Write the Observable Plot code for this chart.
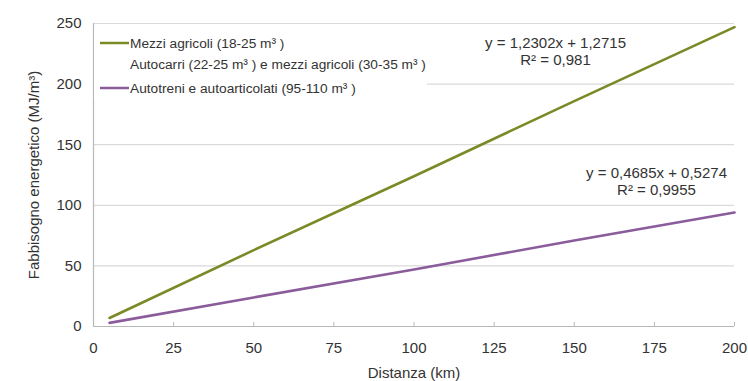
<!DOCTYPE html>
<html>
<head>
<meta charset="utf-8">
<script src="https://cdn.jsdelivr.net/npm/d3@7"></script>
<script src="https://cdn.jsdelivr.net/npm/@observablehq/plot@0.6"></script>
<style>
  html, body { margin: 0; padding: 0; background: #fff; }
</style>
</head>
<body>
<div id="chart"></div>
<script>
// ---- data ----
const distanze = [5, 50, 100, 150, 200];
const mezziAgricoli = [7, 63, 124, 186, 247];
const autotreni = [3, 24, 47, 71, 94];
const seriesNames = [
  "Mezzi agricoli (18-25 m³ )",
  "Autocarri (22-25 m³ ) e mezzi agricoli (30-35 m³ )",
  "Autotreni e autoarticolati (95-110 m³ )"
];
const seriesColors = ["#7b8a26", "#8b5c9b", "none"];
const equazioni = [
  ["y = 1,2302x + 1,2715", "R² = 0,981"],
  ["y = 0,4685x + 0,5274", "R² = 0,9955"]
];
const xTicks = [0, 25, 50, 75, 100, 125, 150, 175, 200];
const yTicks = [0, 50, 100, 150, 200, 250];

const green = seriesColors[0], purple = seriesColors[1];
const dataGreen = distanze.map((d, i) => ({x: d, y: mezziAgricoli[i]}));
const dataPurple = distanze.map((d, i) => ({x: d, y: autotreni[i]}));

const textColor = "#333333";

function legendMark(index, scales, values, dims) {
  const g = d3.create("svg:g").attr("text-anchor", "start");
  const x0 = dims.marginLeft;
  g.append("rect").attr("x", x0 + 1).attr("y", 30).attr("width", 333).attr("height", 70).attr("fill", "white");
  const rows = [
    {name: seriesNames[0], color: green, y: 43},
    {name: seriesNames[1], color: null, y: 64},
    {name: seriesNames[2], color: purple, y: 88}
  ];
  for (const r of rows) {
    if (r.color) {
      g.append("line").attr("x1", x0 + 7).attr("x2", x0 + 36).attr("y1", r.y).attr("y2", r.y)
        .attr("stroke", r.color).attr("stroke-width", 2.5);
    }
    g.append("text").attr("x", x0 + 37).attr("y", r.y).attr("dy", "0.35em")
      .attr("text-anchor", "start")
      .attr("fill", textColor).attr("font-size", "13.7px").text(r.name);
  }
  return g.node();
}

const eqText = (lines, dx, dy) => Plot.text([lines.join("\n")], {
  frameAnchor: "top-left", dx, dy, lineAnchor: "top", textAnchor: "middle",
  fontSize: 15, fill: textColor, stroke: "white", strokeWidth: 6, lineHeight: 1.15
});

const chart = Plot.plot({
  width: 748,
  height: 381,
  marginLeft: 93,
  marginRight: 14,
  marginTop: 23,
  marginBottom: 55,
  style: {fontFamily: "'Liberation Sans', Arial, sans-serif", fontSize: "15px", color: textColor, background: "white"},
  x: {domain: [0, 200]},
  y: {domain: [0, 250]},
  marks: [
    Plot.ruleY(yTicks.filter(d => d > 0), {stroke: "#dadada", strokeWidth: 1.2}),
    Plot.ruleX([0], {stroke: "#b8b8b8", strokeWidth: 1.2}),
    Plot.ruleY([0], {stroke: "#b8b8b8", strokeWidth: 1.2}),
    Plot.axisX({ticks: xTicks, tickSize: -4, stroke: "#b8b8b8", tickFormat: () => "", label: null}),
    Plot.axisX({ticks: xTicks, tickSize: 0, tickPadding: 16, fontSize: 15, fill: textColor,
      label: "Distanza (km)", labelAnchor: "center", labelArrow: "none", labelOffset: 51}),
    Plot.axisY({ticks: yTicks, tickSize: 0, tickPadding: 12, fontSize: 15, fill: textColor,
      label: "Fabbisogno energetico (MJ/m³)", labelAnchor: "center", labelArrow: "none", labelOffset: 65}),
    legendMark,
    eqText(equazioni[0], 462, 12),
    eqText(equazioni[1], 563, 142),
    Plot.line(dataGreen, {x: "x", y: "y", stroke: green, strokeWidth: 2.6}),
    Plot.line(dataPurple, {x: "x", y: "y", stroke: purple, strokeWidth: 2.6})
  ]
});
document.getElementById("chart").appendChild(chart);
</script>
</body>
</html>
